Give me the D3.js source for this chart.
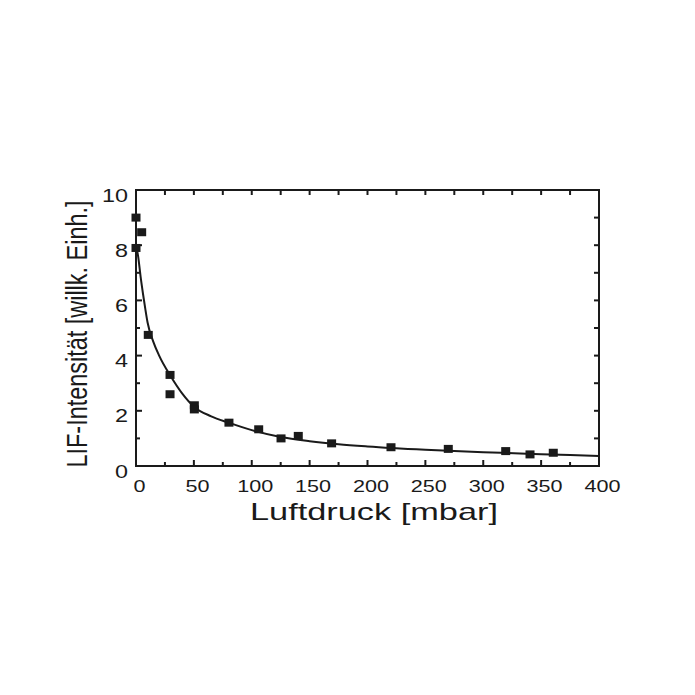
<!DOCTYPE html>
<html><head><meta charset="utf-8">
<script src="https://cdn.jsdelivr.net/npm/d3@7"></script>
<style>body{margin:0;background:#fff}svg{display:block}</style>
</head><body>
<script>
// Data
const measX = [0, 0, 4.9, 10.6, 29.4, 29.4, 50.4, 50.4, 80.3, 106, 125.3, 140.2, 169, 220.3, 269.8, 319.4, 340.4, 360.5];
const measY = [9.0, 7.9, 8.47, 4.75, 3.30, 2.60, 2.2, 2.05, 1.57, 1.33, 1.0, 1.09, 0.82, 0.68, 0.62, 0.54, 0.42, 0.48];
const fitX = [0, 2, 4, 6, 8, 10, 15, 20, 30, 40, 50, 65, 80, 100, 125, 150, 175, 200, 250, 300, 350, 400];
const fitY = [8.05, 7.55, 6.85, 6.25, 5.7, 5.2, 4.5, 4.0, 3.25, 2.62, 2.15, 1.8, 1.57, 1.3, 1.05, 0.9, 0.79, 0.71, 0.59, 0.5, 0.43, 0.36];
const xMajor = [0, 50, 100, 150, 200, 250, 300, 350, 400];
const yMajor = [0, 2, 4, 6, 8, 10];
const xTitle = "Luftdruck [mbar]";
const yTitle = "LIF-Intensität [willk. Einh.]";

const W = 695, H = 695;
const L = 136, R = 599, T = 190, B = 466;
const svg = d3.select("body").append("svg").attr("width", W).attr("height", H);
const x = d3.scaleLinear().domain([0, 400]).range([L, R]);
const y = d3.scaleLinear().domain([0, 10]).range([B, T]);
const ink = "#1a1a1a";

// ticks (inward)
const g = svg.append("g").attr("stroke", ink).attr("stroke-width", 2);
d3.range(0, 401, 25).forEach(v => {
  const major = v % 50 === 0;
  g.append("line").attr("x1", x(v)).attr("x2", x(v)).attr("y1", B).attr("y2", B - (major ? 6 : 4));
  g.append("line").attr("x1", x(v)).attr("x2", x(v)).attr("y1", T).attr("y2", T + 5);
});
d3.range(0, 11, 1).forEach(v => {
  const major = v % 2 === 0;
  g.append("line").attr("x1", L).attr("x2", L + (major ? 6 : 4)).attr("y1", y(v)).attr("y2", y(v));
  g.append("line").attr("x1", R).attr("x2", R - 5).attr("y1", y(v)).attr("y2", y(v));
});
// frame
svg.append("rect").attr("x", L).attr("y", T).attr("width", R - L).attr("height", B - T)
  .attr("fill", "none").attr("stroke", ink).attr("stroke-width", 2);

// labels (glyphs are horizontally stretched in the reference)
const font = "'Liberation Sans', Arial, sans-serif";
svg.append("g").selectAll("text").data(xMajor).join("text")
  .attr("transform", d => `translate(${x(d) + 3.5},${B + 26}) scale(1.27,1)`)
  .attr("text-anchor", "middle")
  .attr("font-family", font).attr("font-size", 17).attr("fill", ink).text(d => d);
svg.append("g").selectAll("text").data(yMajor).join("text")
  .attr("transform", d => `translate(${L - 8},${y(d) + 11.5}) scale(1.3,1)`)
  .attr("text-anchor", "end")
  .attr("font-family", font).attr("font-size", 18).attr("fill", ink).text(d => d);
svg.append("text").attr("x", 250).attr("y", 520)
  .attr("font-family", font).attr("font-size", 24).attr("fill", ink)
  .attr("textLength", 248).attr("lengthAdjust", "spacingAndGlyphs").text(xTitle);
svg.append("text").attr("transform", "translate(87,334) rotate(-90) scale(1,1.4)").attr("text-anchor", "middle")
  .attr("font-family", font).attr("font-size", 21).attr("fill", ink)
  .attr("textLength", 267).attr("lengthAdjust", "spacingAndGlyphs").text(yTitle);

// fit curve
const fit = fitX.map((v, i) => [v, fitY[i]]);
svg.append("path").datum(fit)
  .attr("d", d3.line().x(d => x(d[0])).y(d => y(d[1])).curve(d3.curveMonotoneX))
  .attr("fill", "none").attr("stroke", ink).attr("stroke-width", 2);

// markers
const meas = measX.map((v, i) => [v, measY[i]]);
svg.append("g").selectAll("rect").data(meas).join("rect")
  .attr("x", d => x(d[0]) - 4.5).attr("y", d => y(d[1]) - 4).attr("width", 9).attr("height", 8)
  .attr("fill", ink);
</script>
</body></html>
